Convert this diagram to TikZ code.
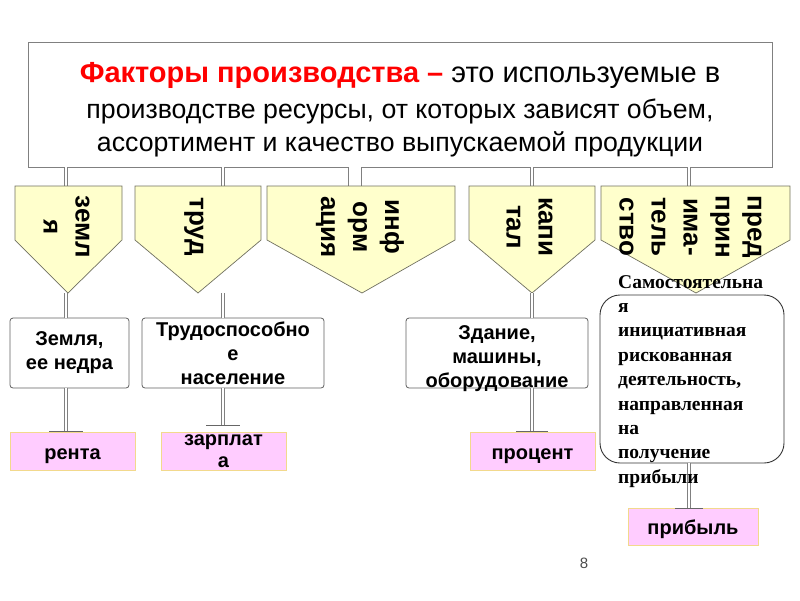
\documentclass[tikz,border=0pt]{standalone}
\usepackage{fontspec}
\setmainfont{Liberation Sans}
\newfontfamily\serifbx{Liberation Serif}
\definecolor{pentfill}{HTML}{FFFFCC}
\definecolor{pentline}{HTML}{707060}
\definecolor{pinkfill}{HTML}{FFCCFF}
\definecolor{pinkline}{HTML}{F2D98C}
\definecolor{connline}{HTML}{808080}
\definecolor{boxline}{HTML}{606060}
\definecolor{titlered}{HTML}{FF0000}
\begin{document}
\begin{tikzpicture}[x=1pt,y=-1pt,
  conn/.style={draw=connline, double=white, double distance=2.6pt, line width=0.7pt},
  wideconn/.style={conn, double distance=12pt},
  endbar/.style={draw=black!60, line width=0.8pt},
  lowtext/.style={execute at begin node={\rule{0pt}{#1}}},
  topbox/.style={draw=connline, line width=0.8pt, fill=white, minimum width=744pt,
    minimum height=125pt, inner sep=0pt, align=center,
    font=\fontsize{26.7}{33}\selectfont},
  pent/.style={draw=pentline, fill=pentfill, line width=0.7pt},
  pentlabel/.style={rotate=-90, anchor=center, align=center, inner sep=0pt,
    font=\bfseries\fontsize{26}{32}\selectfont},
  wbox/.style={draw=boxline, line width=0.8pt, fill=white, rounded corners=3pt,
    align=center, inner sep=0pt, minimum height=70pt,
    font=\bfseries\fontsize{20}{24}\selectfont},
  pbox/.style={draw=pinkline, line width=1pt, fill=pinkfill, align=center,
    inner sep=0pt, minimum height=38pt, minimum width=125pt,
    font=\bfseries\fontsize{20}{21.5}\selectfont},
  ebox/.style={draw=black!80, line width=0.9pt, rounded corners=20pt,
    minimum width=184pt, minimum height=168pt, inner sep=0pt},
  etext/.style={anchor=north west, align=left, inner sep=0pt,
    font=\serifbx\bfseries\fontsize{19.5}{24.4}\selectfont},
  pagenum/.style={font=\fontsize{15}{18}\selectfont, text=black!70, inner sep=0pt}
]
\useasboundingbox (0,0) rectangle (800,600);
% column x positions
\coordinate (zx) at (66,0);
\coordinate (tx) at (223,0);
\coordinate (ix) at (355,0);
\coordinate (kx) at (532,0);
\coordinate (ex) at (689,0);

% top box
\node[topbox, lowtext=100pt] (top) at (400,104.5) {{\fontsize{29}{33}\selectfont{\color{titlered}\bfseries Факторы производства –} это используемые в}\\[3pt]
производстве ресурсы, от которых зависят объем,\\
ассортимент и качество выпускаемой продукции};

% pentagon tops (named) and tips
\coordinate (zT) at (66,186);  \coordinate (zP) at (68,293);
\coordinate (tT) at (223,186); \coordinate (tP) at (198,293);
\coordinate (iT) at (355,186); \coordinate (iP) at (362,293);
\coordinate (kT) at (532,186); \coordinate (kP) at (532,293);
\coordinate (eT) at (689,186); \coordinate (eP) at (696,293);

% connectors top -> pentagons
\draw[conn] (zx |- top.south) -- (zT);
\draw[conn] (tx |- top.south) -- (tT);
\draw[wideconn] (ix |- top.south) -- (iT);
\draw[endbar] ([xshift=-14pt]iT) -- ([xshift=14pt]iT);
\draw[conn] (kx |- top.south) -- (kT);
\draw[conn] (ex |- top.south) -- (eT);

% pentagons
\filldraw[pent] (15,186) -- (122,186) -- (122,240) -- (zP) -- (15,240) -- cycle;
\filldraw[pent] (135,186) -- (261,186) -- (261,240) -- (tP) -- (135,240) -- cycle;
\filldraw[pent] (267,186) -- (455,186) -- (455,240) -- (iP) -- (267,240) -- cycle;
\filldraw[pent] (469,186) -- (595,186) -- (595,240) -- (kP) -- (469,240) -- cycle;
\filldraw[pent] (601,186) -- (790,186) -- (790,240) -- (eP) -- (601,240) -- cycle;

\node[pentlabel] (zl) at (66.5,227) {земл\\я};
\node[pentlabel] (tl) at (194,227) {труд};
\node[pentlabel] (il) at (360,227) {инф\\орм\\ация};
\node[pentlabel] (kl) at (529.5,227) {капи\\тал};
\node[pentlabel] (el) at (690.5,227) {пред\\прин\\има-\\тель\\ство};

% middle boxes
\node[wbox, minimum width=119pt] (zbox) at (69.5,353) {Земля,\\ее недра};
\node[wbox, minimum width=182pt] (tbox) at (233,353) {Трудоспособно\\е\\население};
\node[wbox, lowtext=68pt, text depth=0pt, minimum width=182pt] (kbox) at (497,353) {Здание,\\машины,\\оборудование};
\node[ebox] (ebox) at (692,379) {};

% connectors pentagons -> boxes
\draw[conn] (zx |- zP) -- (zx |- zbox.north);
\draw[conn] (tx |- tP) -- (tx |- tbox.north);
\draw[conn] (kx |- kP) -- (kx |- kbox.north);

% bottom boxes
\node[pbox, lowtext=22pt] (rent) at (72.5,451) {рента};
\node[pbox] (zarp) at (223.5,451) {зарплат\\а};
\node[pbox, lowtext=21pt] (proc) at (532.5,451) {процент};
\node[pbox, lowtext=21pt, minimum width=130pt, minimum height=37pt] (prib) at (693,526.5) {прибыль};

% end coordinates of lower connectors
\coordinate (zE) at (66,431);
\coordinate (tE) at (223,425);
\coordinate (kE) at (532,431);
\coordinate (eE) at (689,508);

\draw[conn] (zx |- zbox.south) -- (zE);
\draw[endbar] ([xshift=-17pt]zE) -- ([xshift=17pt]zE);
\draw[conn] (tx |- tbox.south) -- (tE);
\draw[endbar] ([xshift=-17pt]tE) -- ([xshift=17pt]tE);
\draw[conn] (kx |- kbox.south) -- (kE);
\draw[endbar] ([xshift=-16pt]kE) -- ([xshift=16pt]kE);
\draw[conn] (ex |- ebox.south) -- (eE);
\draw[endbar] ([xshift=-14pt]eE) -- ([xshift=14pt]eE);

% entrepreneur text
\node[etext] (et) at (618,275) {Самостоятельна\\я\\инициативная\\рискованная\\деятельность,\\направленная\\на\\получение\\прибыли};

% page number
\node[pagenum] (pg) at (584,563) {8};
\end{tikzpicture}
\end{document}
